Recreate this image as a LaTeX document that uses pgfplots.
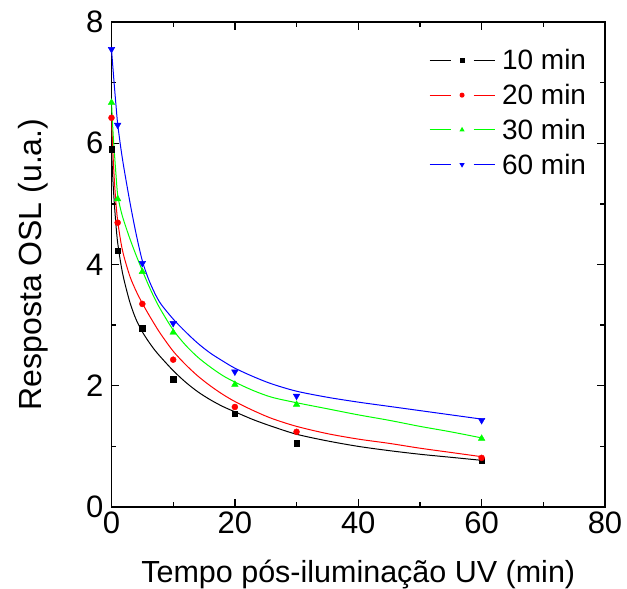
\documentclass[border=0pt]{standalone}
\usepackage{fontspec}
\setmainfont{Liberation Sans}
\usepackage{pgfplots}
\usepackage{pgfplotstable}
\pgfplotsset{compat=1.18}
\usetikzlibrary{plotmarks}
\definecolor{oRed}{RGB}{255,0,0}
\definecolor{oGreen}{RGB}{0,255,0}
\definecolor{oBlue}{RGB}{0,0,255}

\pgfplotstableread{
x y
0 5.90
1 4.23
5 2.95
10 2.11
20 1.54
30 1.05
60 0.76
}\ptsA
\pgfplotstableread{
x y
0 6.42
1 4.69
5 3.35
10 2.43
20 1.65
30 1.24
60 0.81
}\ptsB
\pgfplotstableread{
x y
0 6.67
1 5.08
5 3.88
10 2.88
20 2.02
30 1.69
60 1.13
}\ptsC
\pgfplotstableread{
x y
0 7.55
1 6.30
5 4.02
10 3.03
20 2.23
30 1.83
60 1.43
}\ptsD

\pgfplotstableread{
x y
0 5.90
0.25 5.35
0.5 4.95
0.75 4.62
1 4.36
1.5 4.02
2 3.76
3 3.37
4 3.09
5 2.89
6 2.73
7 2.59
8 2.47
10 2.25
12 2.06
14 1.90
16 1.77
18 1.66
20 1.57
23 1.44
26 1.33
30 1.20
35 1.09
40 1.00
45 0.93
50 0.87
55 0.82
60 0.77
}\fitA
\pgfplotstableread{
x y
0 6.42
0.25 5.80
0.5 5.33
0.75 4.98
1 4.72
1.5 4.38
2 4.14
3 3.80
4 3.56
5 3.36
6 3.18
7 3.01
8 2.85
10 2.57
12 2.35
14 2.16
16 2.00
18 1.86
20 1.74
23 1.59
26 1.46
30 1.33
35 1.21
40 1.12
45 1.05
50 0.97
55 0.90
60 0.83
}\fitB
\pgfplotstableread{
x y
0 6.67
0.25 6.18
0.5 5.80
0.75 5.45
1 5.15
1.5 4.90
2 4.72
3 4.42
4 4.15
5 3.90
6 3.66
7 3.44
8 3.25
10 2.92
12 2.67
14 2.47
16 2.31
18 2.17
20 2.06
23 1.92
26 1.81
30 1.72
35 1.62
40 1.52
45 1.43
50 1.33
55 1.24
60 1.14
}\fitC
\pgfplotstableread{
x y
0 7.55
0.25 7.22
0.5 6.90
0.75 6.60
1 6.32
1.5 5.93
2 5.60
3 5.02
4 4.50
5 4.06
6 3.76
7 3.53
8 3.35
10 3.10
12 2.89
14 2.70
16 2.54
18 2.41
20 2.29
23 2.15
26 2.03
30 1.91
35 1.81
40 1.73
45 1.66
50 1.59
55 1.52
60 1.45
}\fitD

\begin{document}
\begin{tikzpicture}
\useasboundingbox (-111.5bp,-82bp) rectangle (515.5bp,507bp);
\begin{axis}[
  scale only axis, width=493.5bp, height=485bp,
  at={(0,0)}, anchor=south west,
  xmin=0, xmax=80, ymin=0, ymax=8,
  xtick={0,20,40,60,80}, ytick={0,2,4,6,8},
  minor x tick num=1, minor y tick num=1,
  tick align=inside, major tick length=8bp, minor tick length=5bp,
  axis line style={line width=1.3bp},
  every tick/.style={black, line width=1.3bp},
  /pgf/number format/assume math mode=true,
  ticklabel style={font=\fontsize{31bp}{36bp}\selectfont},
  yticklabel style={inner sep=2bp, xshift=-6bp},
  xticklabel style={inner sep=2bp, yshift=-3bp},
  label style={font=\fontsize{32bp}{38bp}\selectfont},
  xlabel={Tempo pós-iluminação UV (min)},
  ylabel={Resposta OSL (u.a.)},
  xlabel style={at={(axis description cs:0.5,0)}, anchor=base, yshift=-75bp, font=\fontsize{30.5bp}{36bp}\selectfont},
  ylabel style={at={(axis description cs:-0.141,0.5)}, anchor=base},
  legend style={draw=none, fill=none, at={(axis description cs:0.637,0.952)}, anchor=north west,
    font=\fontsize{28bp}{33bp}\selectfont, row sep=9bp, column sep=5bp,
    legend cell align=left},
  legend image code/.code={
    \draw[#1, mark=none] (0bp,0bp) -- (21bp,0bp);
    \draw[#1, mark=none] (44bp,0bp) -- (65bp,0bp);
    \draw[#1, only marks, mark size=2bp] plot coordinates {(32.5bp,0bp)};
  },
]
\addplot[black, line width=1bp, smooth, forget plot] table {\fitA};
\addplot[oRed, line width=1bp, smooth, forget plot] table {\fitB};
\addplot[oGreen, line width=1bp, smooth, forget plot] table {\fitC};
\addplot[oBlue, line width=1bp, smooth, forget plot] table {\fitD};
\addplot[black, only marks, mark=square*, mark size=2.7bp, forget plot] table {\ptsA};
\addplot[oRed, only marks, mark=*, mark size=3bp, forget plot] table {\ptsB};
\addplot[oGreen, only marks, mark=triangle*, mark size=3.8bp, forget plot] table {\ptsC};
\addplot[oBlue, only marks, mark=triangle*, mark size=3.8bp, mark options={rotate=180}, forget plot] table {\ptsD};
\addlegendimage{black, line width=1bp, mark=square*}
\addlegendentry{10 min}
\addlegendimage{oRed, line width=1bp, mark=*}
\addlegendentry{20 min}
\addlegendimage{oGreen, line width=1bp, mark=triangle*}
\addlegendentry{30 min}
\addlegendimage{oBlue, line width=1bp, mark=triangle*, mark options={rotate=180}}
\addlegendentry{60 min}
\end{axis}
\end{tikzpicture}
\end{document}
